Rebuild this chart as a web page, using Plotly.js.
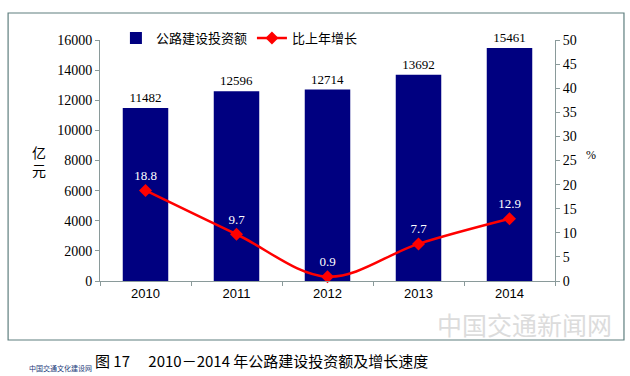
<!DOCTYPE html>
<html><head><meta charset="utf-8">
<script src="https://cdn.plot.ly/plotly-3.0.1.min.js"></script>
<style>html,body{margin:0;padding:0;background:#fff;}#chart{width:630px;height:376px;}</style>
</head><body><div id="chart"></div>
<script>
const years = ['2010','2011','2012','2013','2014'];
const investment = [11482, 12596, 12714, 13692, 15461];
const growth = [18.8, 9.7, 0.9, 7.7, 12.9];
const barName = '公路建设投资额';
const lineName = '比上年增长';
const leftTitle = '亿<br>元';
const rightTitle = '%';
const caption = '图 17　 2010－2014 年公路建设投资额及增长速度';
const watermark = '中国交通新闻网';
const logoText = '中国交通文化建设网';

const serif = 'Liberation Serif, serif';
const cjk = 'Noto Sans CJK SC';

const traces = [
  {type:'bar', x:years, y:investment, name:barName, marker:{color:'#000080'},
   text:investment.map(String), textposition:'outside', cliponaxis:false,
   textfont:{family:serif, size:13, color:'#000'}},
  {type:'scatter', mode:'lines+markers+text', x:years, y:growth, yaxis:'y2', name:lineName,
   line:{color:'#ff0000', width:2.5, shape:'spline'},
   marker:{symbol:'diamond', size:10, color:'#ff0000'},
   text:growth.map(v=>v.toFixed(1)), textposition:'top center', cliponaxis:false,
   textfont:{family:serif, size:13, color:'#fff'}}
];

const axisCommon = {showgrid:false, zeroline:false, showline:true, linecolor:'#8a9a9a', linewidth:1,
  ticks:'outside', ticklen:4, tickcolor:'#8a9a9a'};

const layout = {
  width:630, height:376,
  margin:{l:100, r:75, t:40, b:95},
  paper_bgcolor:'#fff', plot_bgcolor:'#fff',
  bargap:0.5,
  showlegend:true,
  legend:{orientation:'h', x:0.035, y:1.008, xanchor:'left', yanchor:'middle',
    font:{family:cjk, size:13, color:'#000'}, bgcolor:'rgba(0,0,0,0)', traceorder:'normal'},
  xaxis:Object.assign({}, axisCommon, {type:'category', tickson:'boundaries',
    tickfont:{family:'Liberation Sans', size:13, color:'#000'}}),
  yaxis:Object.assign({}, axisCommon, {range:[0,16000], dtick:2000, tickformat:'d',
    tickfont:{family:serif, size:14, color:'#000'}}),
  yaxis2:Object.assign({}, axisCommon, {overlaying:'y', side:'right', range:[0,50], dtick:5, tickformat:'d',
    tickfont:{family:serif, size:14, color:'#000'}}),
  shapes:[
    {type:'rect', xref:'paper', yref:'paper', x0:-0.202, x1:1.1516, y0:-0.2448, y1:1.112,
     line:{color:'#5f7f7f', width:1.2}, fillcolor:'rgba(0,0,0,0)'}
  ],
  annotations:[
    {xref:'paper', yref:'paper', x:-0.154, y:0.5, yanchor:'middle', text:leftTitle, showarrow:false,
     font:{family:cjk, size:14, color:'#000'}},
    {xref:'paper', yref:'paper', x:1.0945, y:0.523, yanchor:'middle', text:rightTitle, showarrow:false,
     font:{family:serif, size:12, color:'#000'}},
    {xref:'paper', yref:'paper', x:0.356, y:-0.328, yanchor:'middle', text:caption, showarrow:false,
     font:{family:cjk, size:15, color:'#000'}},
    {xref:'paper', yref:'paper', x:1.13, y:-0.18, xanchor:'right', yanchor:'middle', text:watermark, showarrow:false,
     font:{family:cjk, size:25, color:'#dcdcdc'}},
    {xref:'paper', yref:'paper', x:-0.013, y:-0.361, xanchor:'right', yanchor:'middle', text:logoText, showarrow:false,
     font:{family:cjk, size:7, color:'#1a3a7a'}}
  ]
};

Plotly.newPlot('chart', traces, layout, {displayModeBar:false, staticPlot:true});
</script>
</body></html>
